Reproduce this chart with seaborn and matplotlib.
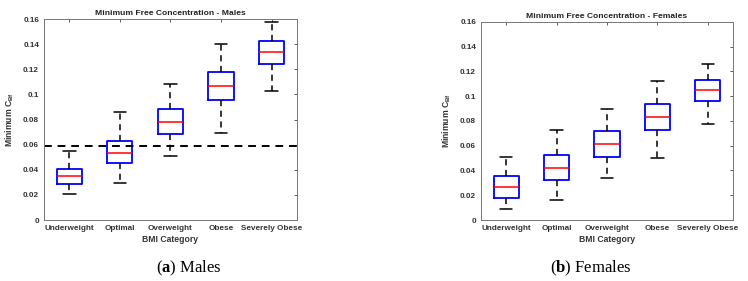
import numpy as np
import pandas as pd
import matplotlib
matplotlib.use("Agg")
import matplotlib.pyplot as plt
import seaborn as sns
from matplotlib.ticker import FuncFormatter, MultipleLocator

categories = ["Underweight", "Optimal", "Overweight", "Obese", "Severely Obese"]

# five-number summaries: lower whisker, Q1, median, Q3, upper whisker
males_low = [0.0207, 0.0292, 0.0507, 0.0695, 0.1029]
males_q1 = [0.0289, 0.0451, 0.0682, 0.0955, 0.1242]
males_med = [0.0348, 0.0536, 0.0780, 0.1067, 0.1337]
males_q3 = [0.0406, 0.0629, 0.0884, 0.1178, 0.1425]
males_high = [0.0552, 0.0857, 0.1080, 0.1404, 0.1576]
males_threshold = 0.0586

females_low = [0.0089, 0.0159, 0.0343, 0.0499, 0.0774]
females_q1 = [0.0181, 0.0321, 0.0510, 0.0731, 0.0961]
females_med = [0.0264, 0.0421, 0.0613, 0.0834, 0.1047]
females_q3 = [0.0359, 0.0523, 0.0718, 0.0934, 0.1131]
females_high = [0.0510, 0.0731, 0.0893, 0.1122, 0.1260]

titles = ["Minimum Free Concentration - Males", "Minimum Free Concentration - Females"]
captions = [("a", "Males"), ("b", "Females")]


def build(low, q1, med, q3, high):
    rows = []
    for i, c in enumerate(categories):
        for v in (low[i], q1[i], med[i], q3[i], high[i]):
            rows.append({"cat": c, "val": v})
    return pd.DataFrame(rows)


sns.set_theme(style="white")
plt.rcParams["font.family"] = ["Liberation Sans", "DejaVu Sans"]
plt.rcParams["mathtext.fontset"] = "custom"
plt.rcParams["mathtext.rm"] = "Liberation Sans:bold"
plt.rcParams["mathtext.it"] = "Liberation Sans:bold"
plt.rcParams["mathtext.bf"] = "Liberation Serif:bold"

fig = plt.figure(figsize=(7.48, 2.81), dpi=100)
ax1 = fig.add_axes([0.0588, 0.217, 0.338, 0.715])
ax2 = fig.add_axes([0.643, 0.217, 0.337, 0.705])

data = [build(males_low, males_q1, males_med, males_q3, males_high),
        build(females_low, females_q1, females_med, females_q3, females_high)]

grey = "#444444"
for k, (ax, df) in enumerate(zip([ax1, ax2], data)):
    sns.boxplot(data=df, x="cat", y="val", order=categories, ax=ax,
                whis=(0, 100), width=0.5, fill=False, color="blue",
                linewidth=1.3, showfliers=False,
                whiskerprops=dict(color="black", linestyle=(0, (4, 3)), linewidth=1.1),
                capprops=dict(color="black", linewidth=1.1),
                medianprops=dict(color="red", linewidth=1.1),
                boxprops=dict(color="blue", linewidth=1.3))
    ax.set_ylim(0, 0.16)
    ax.set_xlim(-0.5, 4.5)
    ax.yaxis.set_major_locator(MultipleLocator(0.02))
    ax.yaxis.set_major_formatter(FuncFormatter(lambda v, p: "%g" % round(v, 4)))
    ax.tick_params(direction="in", length=2.5, width=0.6, colors=grey,
                   labelsize=5.9, top=True, right=True, pad=3.5)
    for lab in ax.get_xticklabels() + ax.get_yticklabels():
        lab.set_fontweight("bold")
        lab.set_color("#333333")
    for s in ax.spines.values():
        s.set_color("#777777")
        s.set_linewidth(0.7)
    ax.set_title(titles[k], fontsize=6.1, fontweight="bold", color="#222222", pad=3)
    ax.set_xlabel("BMI Category", fontsize=6.2, fontweight="bold", color="#333333", labelpad=2.5)
    ax.set_ylabel(r"Minimum C$_{Bf}$", fontsize=6.2, fontweight="bold", color="#333333", labelpad=5)

ax1.axhline(males_threshold, color="black", linestyle=(0, (4, 3)), linewidth=1.4)

for (letter, word), xc in zip(captions, [0.253, 0.79]):
    fig.text(xc, 0.045, r"($\mathbf{%s}$) %s" % (letter, word), ha="center", va="center",
             fontsize=12, family="Liberation Serif", color="black")

fig.savefig("out.png", dpi=100)
